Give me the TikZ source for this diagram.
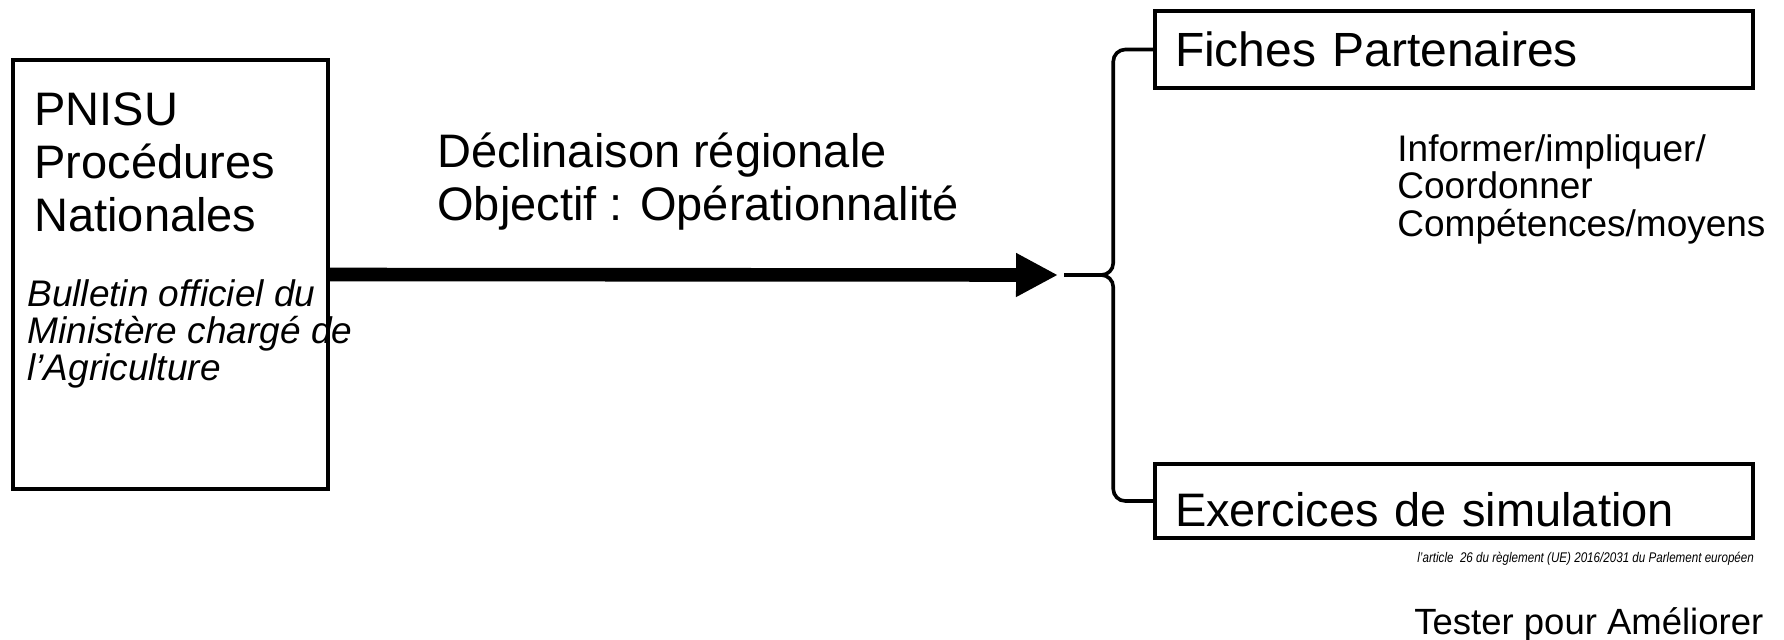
\documentclass[tikz,border=0pt]{standalone}
\usepackage{fontspec}
\usepackage{graphicx}
\setmainfont{Liberation Sans}
\usetikzlibrary{arrows.meta}

\begin{document}
\begin{tikzpicture}[
  x=0.5pt, y=-0.5pt,
  block/.style = {
    draw,
    shape=rectangle,
    line width=1.75pt,
    inner sep=0pt
  },
  label/.style = {
    draw,
    shape=rectangle,
    line width=1.75pt,
    minimum width=299pt,
    text width=279pt,
    inner xsep=10pt,
    align=left,
    font=\fontsize{23.5pt}{26.5pt}\selectfont
  },
  bigtext/.style = {
    font=\fontsize{23.5pt}{26.5pt}\selectfont,
    align=left,
    anchor=base west,
    inner sep=0pt
  },
  smalltext/.style = {
    font=\fontsize{18.5pt}{18.75pt}\selectfont,
    align=left,
    anchor=base west,
    inner sep=0pt
  },
  bigarrow/.style = {
    line width=6.8pt,
    -{Triangle[length=21pt, width=20.5pt]}
  },
  brace/.style = {
    line width=1.8pt,
    rounded corners=6pt
  },
]
  \useasboundingbox (0,0) rectangle (1784,639);

  % the base anchor of a multi-line node sits on its last line
  \node (pnisu)[
    block,
    minimum width=157.5pt,
    minimum height=214.5pt
  ] at (170.5,274.5) {};
  \node (pnisutitle)[bigtext] at (34,231) {PNISU\\Procédures\\Nationales};
  \node (bulletin)[
    smalltext,
    font=\fontsize{18.5pt}{18.5pt}\selectfont\itshape
  ] at (27,380) {Bulletin officiel du\\Ministère chargé de\\l’Agriculture};

  \node (declinaison)[bigtext] at (437,220) {Déclinaison régionale\\Objectif : Opérationnalité};

  \node (fiches)[
    label,
    minimum height=38.5pt,
    font=\fontsize{24pt}{27pt}\selectfont
  ] at (1454,49.5) {Fiches Partenaires};
  \node (informer)[smalltext] at (1397,236) {Informer/impliquer/\\Coordonner\\Compétences/moyens};

  \node (exercices)[
    label,
    minimum height=37pt,
    text height=25.8pt,
    text depth=0pt
  ] at (1454,501) {Exercices de simulation};
  \node (article)[
    smalltext,
    font=\fontsize{7pt}{8pt}\selectfont\itshape
  ] at (1417,562) {\scalebox{0.83}[1]{l’article~ 26 du règlement (UE) 2016/2031 du Parlement européen}};
  \node (tester)[
    smalltext,
    font=\fontsize{18.25pt}{20pt}\selectfont
  ] at (1414,634) {Tester pour Améliorer};

  \coordinate (arrowtip) at (1058,275);
  \coordinate (bracetip) at (1064,275);

  \draw[bigarrow] (pnisu.east) -- (arrowtip);
  \draw[brace] (bracetip) -| ([xshift=-20pt]fiches.west) -- (fiches.west);
  \draw[brace] (bracetip) -| ([xshift=-20pt]exercices.west) -- (exercices.west);
\end{tikzpicture}
\end{document}
